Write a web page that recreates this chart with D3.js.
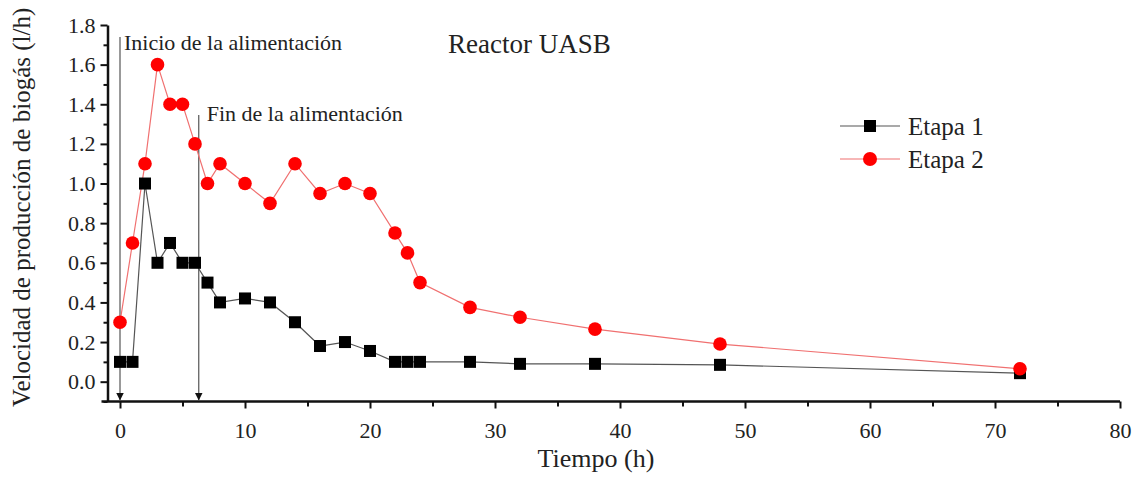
<!DOCTYPE html>
<html><head><meta charset="utf-8">
<script src="https://cdn.jsdelivr.net/npm/d3@7/dist/d3.min.js"></script>
<style>body{margin:0;background:#fff}svg{display:block}text{font-family:"Liberation Serif","Times New Roman",serif;fill:#222}</style>
</head><body><svg id="c" width="1138" height="479"></svg>
<script>
const time = [0,1,2,3,4,5,6,7,8,10,12,14,16,18,20,22,23,24,28,32,38,48,72];
const etapa1 = [0.1,0.1,1.0,0.6,0.7,0.6,0.6,0.5,0.4,0.42,0.4,0.3,0.18,0.2,0.155,0.1,0.1,0.1,0.1,0.09,0.09,0.085,0.043];
const etapa2 = [0.3,0.7,1.1,1.6,1.4,1.4,1.2,1.0,1.1,1.0,0.9,1.1,0.95,1.0,0.95,0.75,0.65,0.5,0.375,0.325,0.265,0.19,0.065];
const seriesNames = ["Etapa 1","Etapa 2"];
const xTicks = [0,10,20,30,40,50,60,70,80];
const yTicks = [0.0,0.2,0.4,0.6,0.8,1.0,1.2,1.4,1.6,1.8];
const annotations = [{t:0, label:"Inicio de la alimentación"},{t:6.3, label:"Fin de la alimentación"}];

const svg = d3.select("#c");
const x = d3.scaleLinear().domain([-1,80]).range([107.5,1120]);
const y = d3.scaleLinear().domain([-0.1,1.8]).range([401.5,25]);

// axes
const xAxis = d3.axisBottom(x).tickValues(xTicks).tickFormat(d3.format("d")).tickSize(7).tickSizeOuter(0).tickPadding(14);
const gx = svg.append("g").attr("transform",`translate(0,${y(-0.1)})`).call(xAxis);
gx.selectAll(".tick line").attr("stroke","#111").attr("stroke-width",2);
gx.select(".domain").attr("stroke","#111").attr("stroke-width",2.5).attr("d",`M${x(-1)-6},0H${x(80)}`);
gx.selectAll("text").attr("font-size",22).attr("font-family","Liberation Serif").attr("fill","#333");
const gxm = svg.append("g").attr("transform",`translate(0,${y(-0.1)})`).call(d3.axisBottom(x).tickValues(d3.range(5,80,10)).tickSize(5).tickFormat(""));
gxm.select(".domain").remove(); gxm.selectAll(".tick line").attr("stroke","#111").attr("stroke-width",2);

const yAxis = d3.axisLeft(y).tickValues(yTicks).tickFormat(d3.format(".1f")).tickSize(7).tickSizeOuter(0).tickPadding(5);
const gy = svg.append("g").attr("transform",`translate(${x(-1)},0)`).call(yAxis);
gy.select(".domain").attr("stroke","#111").attr("stroke-width",2.5);
gy.selectAll(".tick line").attr("stroke","#111").attr("stroke-width",2);
gy.selectAll("text").attr("font-size",22).attr("font-family","Liberation Serif").attr("fill","#333");
const gym = svg.append("g").attr("transform",`translate(${x(-1)},0)`).call(d3.axisLeft(y).tickValues(d3.range(-0.1,1.8,0.2)).tickSize(4).tickFormat(""));
gym.select(".domain").remove(); gym.selectAll(".tick line").attr("stroke","#111").attr("stroke-width",2);

// axis titles
svg.append("text").attr("x",596).attr("y",467).attr("text-anchor","middle").attr("font-size",26).text("Tiempo (h)");
svg.append("text").attr("transform",`translate(30,${y(0.88)}) rotate(-90)`).attr("text-anchor","middle").attr("font-size",25).text("Velocidad de producción de biogás (l/h)");
svg.append("text").attr("x",448).attr("y",53).attr("font-size",27).text("Reactor UASB");

// annotations
svg.append("defs").append("marker").attr("id","arr").attr("viewBox","0 0 10 10").attr("refX",10).attr("refY",5)
  .attr("markerWidth",8).attr("markerHeight",8).attr("orient","auto").attr("markerUnits","userSpaceOnUse")
  .append("path").attr("d","M0,0L10,5L0,10Z").attr("fill","#111");
const annY = [37, 115];
const annDx = [4, 8];
const annBase = [50, 121];
annotations.forEach((a,i)=>{
  svg.append("line").attr("x1",x(a.t)).attr("x2",x(a.t)).attr("y1",annY[i]).attr("y2",y(-0.1)-1)
    .attr("stroke","#555").attr("stroke-width",1.2).attr("marker-end","url(#arr)");
  svg.append("text").attr("x",x(a.t)+annDx[i]).attr("y",annBase[i]).attr("font-size",22).text(a.label);
});

// series
const d1 = time.map((t,i)=>({t,v:etapa1[i]}));
const d2 = time.map((t,i)=>({t,v:etapa2[i]}));
const line = d3.line().x(d=>x(d.t)).y(d=>y(d.v));
svg.append("path").datum(d1).attr("d",line).attr("fill","none").attr("stroke","#555").attr("stroke-width",1.2);
svg.append("path").datum(d2).attr("d",line).attr("fill","none").attr("stroke","#f07070").attr("stroke-width",1.2);
const sq = 12;
svg.append("g").selectAll("rect").data(d1).join("rect")
  .attr("x",d=>x(d.t)-sq/2).attr("y",d=>y(d.v)-sq/2).attr("width",sq).attr("height",sq).attr("fill","#000");
svg.append("g").selectAll("circle").data(d2).join("circle")
  .attr("cx",d=>x(d.t)).attr("cy",d=>y(d.v)).attr("r",6.8).attr("fill","#ff0000");

// legend
const lg = svg.append("g");
[0,1].forEach(i=>{
  const yy = 126 + i*33;
  lg.append("line").attr("x1",840).attr("x2",900).attr("y1",yy).attr("y2",yy).attr("stroke",i?"#f07070":"#555").attr("stroke-width",1.2);
  if(i===0) lg.append("rect").attr("x",870-6).attr("y",yy-6).attr("width",12).attr("height",12).attr("fill","#000");
  else lg.append("circle").attr("cx",870).attr("cy",yy).attr("r",7).attr("fill","#ff0000");
  lg.append("text").attr("x",908).attr("y",yy+9).attr("font-size",25).text(seriesNames[i]);
});
</script></body></html>
